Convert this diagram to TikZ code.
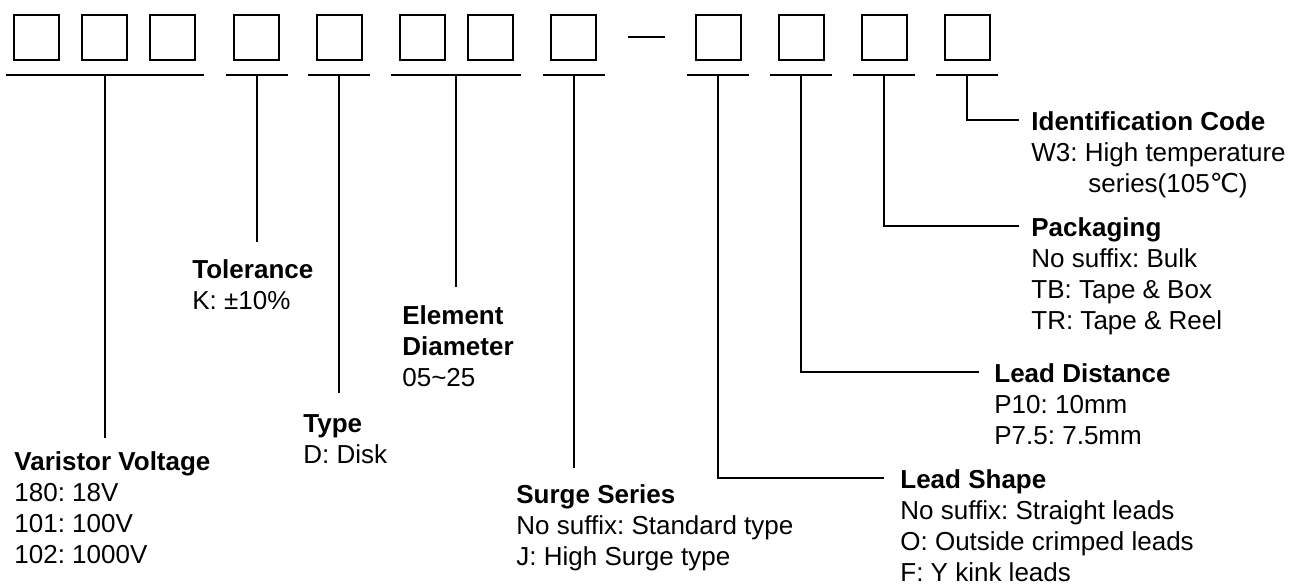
\documentclass[tikz,border=0pt]{standalone}
\usepackage{fontspec}
\setmainfont{Liberation Sans}
\newfontfamily\degfont{DejaVu Sans}
\usetikzlibrary{positioning}
\frenchspacing

\begin{document}
\begin{tikzpicture}[x=0.5pt, y=-0.5pt,
    box/.style={draw, line width=1pt, minimum width=22.5pt, minimum height=22.5pt, inner sep=0pt},
    lbl/.style={anchor=north west, inner sep=0pt, align=left, font=\fontsize{13}{15.5}\selectfont},
    conn/.style={draw, line width=1pt}
]
    \useasboundingbox (0,0) rectangle (1303,585);

    \node[box] (b1)  at (36.5,37.2) {};
    \node[box] (b2)  at (104.7,37.2) {};
    \node[box] (b3)  at (172.7,37.2) {};
    \node[box] (b4)  at (256.5,37.2) {};
    \node[box] (b5)  at (339,37.2) {};
    \node[box] (b6)  at (422,37.2) {};
    \node[box] (b7)  at (490,37.2) {};
    \node[box] (b8)  at (573.5,37.2) {};
    \node[box] (b9)  at (718,37.2) {};
    \node[box] (b10) at (801,37.2) {};
    \node[box] (b11) at (884.3,37.2) {};
    \node[box] (b12) at (967,37.2) {};

    \draw[conn] ([xshift=15.5pt]b8.east) -- ([xshift=-15pt]b9.west);

    \draw[conn] ([xshift=-3.75pt,yshift=-7.3pt]b1.south west) -- coordinate[midway] (u1) ([xshift=3.75pt,yshift=-7.3pt]b3.south east);
    \draw[conn] ([xshift=-3.75pt,yshift=-7.3pt]b4.south west) -- coordinate[midway] (u2) ([xshift=3.75pt,yshift=-7.3pt]b4.south east);
    \draw[conn] ([xshift=-3.75pt,yshift=-7.3pt]b5.south west) -- coordinate[midway] (u3) ([xshift=3.75pt,yshift=-7.3pt]b5.south east);
    \draw[conn] ([xshift=-3.75pt,yshift=-7.3pt]b6.south west) -- coordinate[midway] (u4) ([xshift=3.75pt,yshift=-7.3pt]b7.south east);
    \draw[conn] ([xshift=-3.75pt,yshift=-7.3pt]b8.south west) -- coordinate[midway] (u5) ([xshift=3.75pt,yshift=-7.3pt]b8.south east);
    \draw[conn] ([xshift=-3.75pt,yshift=-7.3pt]b9.south west) -- coordinate[midway] (u6) ([xshift=3.75pt,yshift=-7.3pt]b9.south east);
    \draw[conn] ([xshift=-3.75pt,yshift=-7.3pt]b10.south west) -- coordinate[midway] (u7) ([xshift=3.75pt,yshift=-7.3pt]b10.south east);
    \draw[conn] ([xshift=-3.75pt,yshift=-7.3pt]b11.south west) -- coordinate[midway] (u8) ([xshift=3.75pt,yshift=-7.3pt]b11.south east);
    \draw[conn] ([xshift=-3.75pt,yshift=-7.3pt]b12.south west) -- coordinate[midway] (u9) ([xshift=3.75pt,yshift=-7.3pt]b12.south east);

    \node[lbl] (volt)  at (14,451)   {\textbf{Varistor Voltage}\\180: 18V\\101: 100V\\102: 1000V};
    \node[lbl] (tol)   at (192,259)  {\textbf{Tolerance}\\K: ±10\%};
    \node[lbl] (type)  at (303,414)  {\textbf{Type}\\D: Disk};
    \node[lbl] (diam)  at (402,305)  {\textbf{Element}\\\textbf{Diameter}\\05\textasciitilde25};
    \node[lbl] (surge) at (516,484)  {\textbf{Surge Series}\\No suffix: Standard type\\J: High Surge type};
    \node[lbl] (shape) at (900,469)  {\textbf{Lead Shape}\\No suffix: Straight leads\\O: Outside crimped leads\\F: Y kink leads};
    \node[lbl] (dist)  at (994,363)  {\textbf{Lead Distance}\\P10: 10mm\\P7.5: 7.5mm};
    \node[lbl] (pack)  at (1031,217) {\textbf{Packaging}\\No suffix: Bulk\\TB: Tape \& Box\\TR: Tape \& Reel};
    \node[lbl] (ident) at (1031,111) {\textbf{Identification Code}\\W3: High temperature\\\hspace{28.5pt}series(105{\degfont ℃})};

    \draw[conn, shorten >=6.5pt] (u1) -- (u1 |- volt.north);
    \draw[conn, shorten >=8.5pt] (u2) -- (u2 |- tol.north);
    \draw[conn, shorten >=10.5pt] (u3) -- (u3 |- type.north);
    \draw[conn, shorten >=9pt] (u4) -- (u4 |- diam.north);
    \draw[conn, shorten >=8pt] (u5) -- (u5 |- surge.north);
    \draw[conn] (u6) |- ([xshift=-8pt,yshift=-4.3pt]shape.north west);
    \draw[conn] (u7) |- ([xshift=-7.5pt,yshift=-4.3pt]dist.north west);
    \draw[conn] (u8) |- ([xshift=-6pt,yshift=-4.3pt]pack.north west);
    \draw[conn] (u9) |- ([xshift=-6pt,yshift=-4.3pt]ident.north west);
\end{tikzpicture}
\end{document}
